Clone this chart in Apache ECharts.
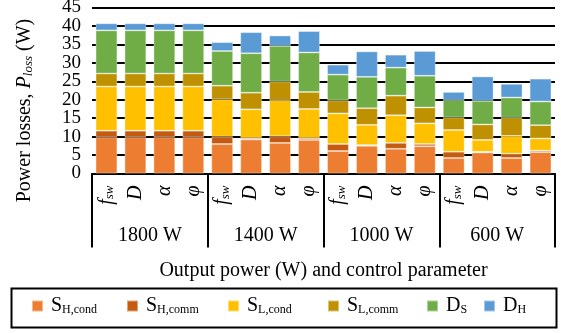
<!DOCTYPE html>
<html><head><meta charset="utf-8">
<script src="https://cdn.jsdelivr.net/npm/echarts@6/dist/echarts.min.js"></script>
<style>html,body{margin:0;padding:0;background:#fff}#c{width:561px;height:333px}</style>
</head><body><div id="c"></div>
<script>
const groups = ['1800 W', '1400 W', '1000 W', '600 W'];
const params = ['f_sw', 'D', 'α', 'φ'];
const categories = [].concat(params, params, params, params);
const yTicksA = [0, 10, 20, 30, 40];
const yTicksB = [5, 15, 25, 35, 45];

const shCond = [9.8, 9.8, 9.8, 9.8, 8.0, 9.2, 8.3, 9.1, 6.1, 7.5, 6.7, 7.4, 4.2, 5.7, 4.2, 5.8];
const shComm = [1.8, 1.8, 1.8, 1.8, 2.0, 0.4, 1.8, 0.5, 1.9, 0.2, 1.6, 0.6, 1.7, 0.2, 1.15, 0.4];
const slCond = [12.0, 12.0, 12.0, 12.0, 10.1, 7.8, 9.8, 7.9, 8.3, 5.5, 7.5, 5.6, 5.9, 3.2, 4.85, 3.3];
const slComm = [3.5, 3.5, 3.5, 3.5, 3.7, 4.5, 5.0, 4.6, 3.5, 4.5, 5.3, 4.3, 3.4, 4.2, 4.9, 3.6];
const dS = [11.7, 11.7, 11.7, 11.7, 9.4, 10.7, 9.7, 10.7, 7.0, 8.5, 7.6, 8.6, 4.7, 6.4, 5.5, 6.4];
const dH = [1.9, 1.9, 1.9, 1.9, 2.4, 5.7, 2.8, 5.8, 2.7, 6.9, 3.5, 6.7, 2.2, 6.6, 3.7, 6.2];

const seriesNames = ['S_H,cond', 'S_H,comm', 'S_L,cond', 'S_L,comm', 'D_S', 'D_H'];
const seriesData = [shCond, shComm, slCond, slComm, dS, dH];
const colors = ['#ED7D31', '#C55A11', '#FFC000', '#BF9000', '#70AD47', '#5B9BD5'];
const legendLeft = [31, 126, 227, 327, 426, 483];

const SERIF = '"Liberation Serif", "Times New Roman", serif';

function subLabel(name) {
  const p = name.split('_');
  return p.length > 1 ? '{m|' + p[0] + '}{s|' + p[1] + '}' : '{m|' + name + '}';
}

const legends = seriesNames.map(function (n, k) {
  return {
    data: [n],
    left: legendLeft[k], top: 296,
    padding: 0,
    itemWidth: 11, itemHeight: 11,
    icon: 'rect',
    formatter: subLabel,
    textStyle: {
      fontFamily: SERIF, color: '#000', padding: [0, 0, 0, 3],
      rich: {
        m: {fontFamily: SERIF, fontSize: 20, color: '#000'},
        s: {fontFamily: SERIF, fontSize: 12, color: '#000', verticalAlign: 'bottom', padding: [8, 0, 0, 0]}
      }
    }
  };
});

function yLabel(list) {
  return {
    showMinLabel: true, showMaxLabel: true, hideOverlap: false,
    fontFamily: SERIF, fontSize: 19, color: '#000', margin: 11,
    formatter: function (v) { return list.indexOf(v) >= 0 ? '{n|' + v + '}' : ''; },
    rich: {n: {fontFamily: SERIF, fontSize: 19, color: '#000'}}
  };
}

const chart = echarts.init(document.getElementById('c'), null, {renderer: 'canvas'});
chart.setOption({
  animation: false,
  backgroundColor: '#fff',
  grid: {left: 92, right: 6, top: 7.5, bottom: 159.5, containLabel: false, outerBoundsMode: 'none'},
  legend: legends,
  graphic: [{
    type: 'rect', left: 9, top: 286,
    shape: {width: 545, height: 39},
    style: {fill: 'none', stroke: '#000', lineWidth: 2}
  }],
  xAxis: [
    {
      type: 'category', data: categories, gridIndex: 0, position: 'bottom',
      axisLine: {show: true, lineStyle: {color: '#000', width: 2}},
      axisTick: {show: false},
      axisLabel: {
        rotate: 90, margin: 12, interval: 0,
        formatter: function (v) {
          if (v === 'f_sw') return '{i|f}{s|sw}';
          return '{i|' + v + '}';
        },
        rich: {
          i: {fontFamily: SERIF, fontStyle: 'italic', fontSize: 20, color: '#000'},
          s: {fontFamily: SERIF, fontStyle: 'italic', fontSize: 13, color: '#000', verticalAlign: 'bottom', padding: [6, 0, 0, 0]}
        }
      },
      splitLine: {show: false}
    },
    {
      type: 'category', data: groups, gridIndex: 0, position: 'bottom',
      axisLine: {show: false},
      axisTick: {show: true, length: 74, inside: false, lineStyle: {color: '#000', width: 2}},
      axisLabel: {margin: 52, interval: 0, fontFamily: SERIF, fontSize: 20, color: '#000'},
      name: 'Output power (W) and control parameter',
      nameLocation: 'middle', nameGap: 87,
      nameTextStyle: {fontFamily: SERIF, fontSize: 20, color: '#000'}
    }
  ],
  yAxis: [
    {
      type: 'value', min: 0, max: 45, interval: 5, position: 'left',
      axisLine: {show: false}, axisTick: {show: false},
      axisLabel: yLabel(yTicksA),
      splitLine: {show: true, lineStyle: {color: '#000', width: 2}},
      name: 'Power losses, {i|P}{s|loss} (W)',
      nameLocation: 'middle', nameRotate: 90, nameGap: 57,
      nameTextStyle: {
        fontFamily: SERIF, fontSize: 20, color: '#000', padding: [0, 40, 0, 0],
        rich: {
          i: {fontFamily: SERIF, fontStyle: 'italic', fontSize: 20, color: '#000'},
          s: {fontFamily: SERIF, fontStyle: 'italic', fontSize: 13, color: '#000', verticalAlign: 'bottom', padding: [6, 0, 0, 0]}
        }
      }
    },
    {
      type: 'value', min: 0, max: 45, interval: 5, position: 'left', offset: 0,
      axisLine: {show: false}, axisTick: {show: false},
      axisLabel: yLabel(yTicksB),
      splitLine: {show: false}
    }
  ],
  series: seriesNames.map(function (n, k) {
    return {
      name: n, type: 'bar', stack: 'total', xAxisIndex: 0, yAxisIndex: 0,
      barCategoryGap: '25%',
      data: seriesData[k],
      itemStyle: {color: colors[k], borderColor: 'rgba(255,255,255,0.45)', borderWidth: 0.8}
    };
  })
});
</script>
</body></html>
